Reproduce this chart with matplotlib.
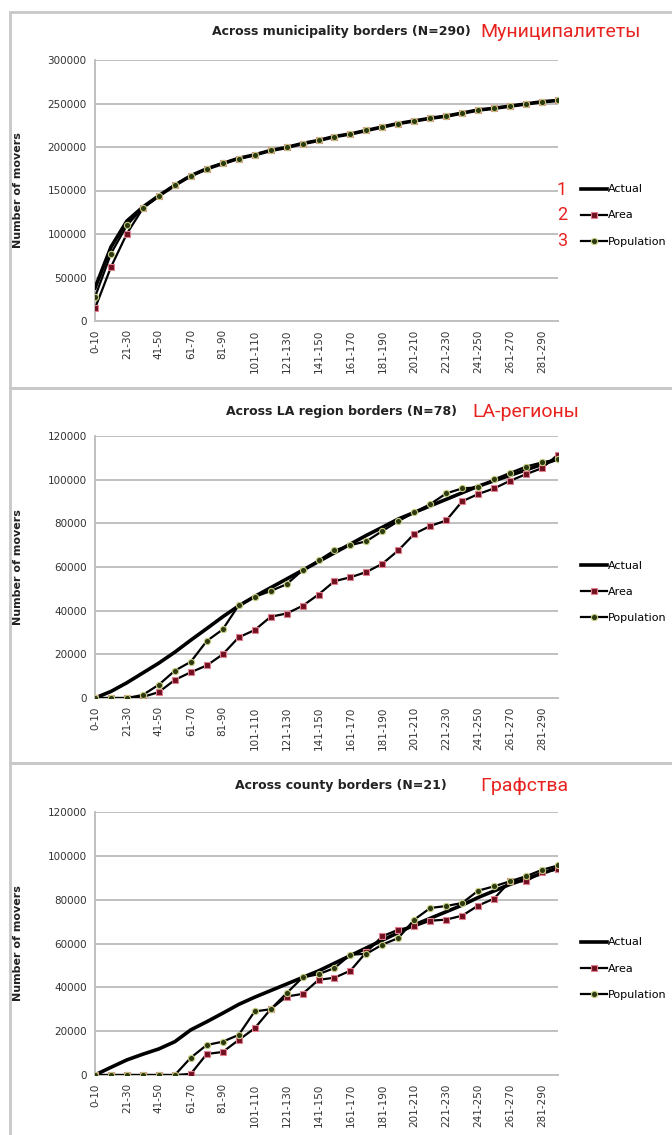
import matplotlib
matplotlib.use("Agg")
import matplotlib.pyplot as plt
from matplotlib.patches import Rectangle

# categories: distance bands 0-10 ... 291-300
cats = ["0-10"] + [f"{a}-{a + 9}" for a in range(11, 300, 10)]

# panel 1: municipality borders
mun_actual = [38000, 85000, 115000, 131000, 144000, 156000, 167000, 175000, 181000, 187000,
              191000, 196000, 199500, 204000, 207500, 212000, 215000, 219000, 223000, 227000,
              230000, 233000, 235500, 239000, 242500, 244500, 247000, 249500, 252000, 253500]
mun_area = [14500, 62000, 100500, 129500, 143500, 156500, 167000, 174500, 181500, 186500,
            191000, 196000, 199500, 204000, 207500, 212000, 215000, 219000, 223000, 227000,
            230000, 233000, 235500, 239000, 242500, 244500, 247000, 249500, 252000, 253500]
mun_pop = [27500, 77500, 110000, 130000, 143500, 156500, 167000, 174500, 181500, 186500,
           191000, 196000, 199500, 204000, 207500, 212000, 215000, 219000, 223000, 227000,
           230000, 233000, 235500, 239000, 242500, 244500, 247000, 249500, 252000, 253500]

# panel 2: LA region borders
la_actual = [0, 3000, 7000, 11500, 16000, 21000, 26500, 31800, 37200, 42200,
             46500, 50500, 54500, 58500, 62500, 66500, 70500, 74500, 78200, 82000,
             85000, 88000, 91000, 94000, 97000, 99500, 102000, 104500, 107000, 109500]
la_area = [0, 0, 0, 500, 2700, 8300, 11800, 14900, 20000, 27800,
           31100, 37200, 38700, 42200, 47400, 53500, 55300, 57700, 61500, 67600,
           75200, 78800, 81300, 90100, 93400, 96000, 99500, 102500, 105300, 111500]
la_pop = [0, 0, 0, 1400, 6100, 12500, 16600, 26100, 31400, 42500,
          46300, 49000, 52100, 58500, 63000, 67600, 70000, 71800, 76500, 81000,
          85000, 88800, 93700, 96000, 96500, 100100, 103100, 106000, 107900, 109400]

# panel 3: county borders
cty_actual = [0, 3500, 6900, 9500, 11900, 15200, 20600, 24300, 28200, 32200,
              35500, 38500, 41500, 44500, 47500, 51000, 54500, 58000, 61500, 65000,
              68500, 71500, 74500, 77500, 81000, 84000, 87000, 89500, 92000, 94500]
cty_area = [0, 0, 0, 0, 0, 0, 500, 9600, 10500, 16000,
            21300, 30000, 35800, 37000, 43400, 44400, 47600, 56100, 63300, 66300,
            67800, 70400, 70900, 72700, 77300, 80500, 88400, 88400, 92500, 93800]
cty_pop = [0, 0, 0, 0, 0, 0, 7900, 13700, 15200, 18300,
           29000, 30000, 37300, 44500, 46000, 48800, 54900, 55300, 59500, 62500,
           70900, 76200, 77100, 78500, 84100, 86100, 88400, 90700, 93600, 95600]

panels = [
    ("Across municipality borders (N=290)", "Муниципалитеты", mun_actual, mun_area, mun_pop, 300000, 50000),
    ("Across LA region borders (N=78)", "LA-регионы", la_actual, la_area, la_pop, 120000, 20000),
    ("Across county borders (N=21)", "Графства", cty_actual, cty_area, cty_pop, 120000, 20000),
]

W, H = 672, 1135
fig = plt.figure(figsize=(W / 100, H / 100), dpi=100)
fig.patch.set_facecolor("white")

red_font = ["Roboto", "DejaVu Sans"]

# (axes top px, axes bottom px, panel top px, panel bottom px, title y px, red title x px)
geo = [(60, 321, 12, 388, 32, 480), (436, 698, 388, 763, 412, 472), (812, 1075, 763, 1140, 786, 480)]
x = list(range(len(cats)))

for (title, ru, act, area, pop, ymax, ystep), (ta, ba, tp, bp, ty, rx) in zip(panels, geo):
    # panel frame
    fig.add_artist(Rectangle((10 / W, 1 - bp / H), (W + 20 - 10) / W, (bp - tp) / H,
                             transform=fig.transFigure, fill=False, edgecolor="#c8c8c8", lw=2))
    ax = fig.add_axes([95 / W, 1 - ba / H, (558 - 95) / W, (ba - ta) / H])
    ax.plot(x, act, color="black", lw=2.6, label="Actual", zorder=3)
    ax.plot(x, area, color="black", lw=1.6, marker="s", ms=4.5, mfc="#6e1020",
            mec="#e08090", mew=0.8, label="Area", zorder=4)
    ax.plot(x, pop, color="black", lw=1.6, marker="o", ms=4.5, mfc="#2c3a12",
            mec="#c8cc80", mew=0.8, label="Population", zorder=5)
    ax.set_xlim(0, len(cats) - 1)
    ax.set_ylim(0, ymax)
    ax.set_yticks(range(0, ymax + 1, ystep))
    ax.set_yticklabels([str(v) for v in range(0, ymax + 1, ystep)], fontsize=7.5, color="#333333")
    ax.set_xticks(x[::2])
    ax.set_xticklabels(cats[::2], rotation=90, fontsize=7.5, color="#333333")
    ax.tick_params(length=0, pad=6)
    ax.grid(axis="y", color="#c0c0c0", lw=1.4)
    ax.set_axisbelow(True)
    for s in ["top", "right"]:
        ax.spines[s].set_visible(False)
    for s in ["left", "bottom"]:
        ax.spines[s].set_color("#c0c0c0")
        ax.spines[s].set_linewidth(1.4)
    ax.set_ylabel("Number of movers", fontsize=8, fontweight="bold", color="#222222", labelpad=6)
    ax.yaxis.set_label_coords(-0.155, 0.5)
    ax.legend(loc="center left", bbox_to_anchor=(575 / W, 1 - ((ta + ba) / 2 + 25) / H),
              bbox_transform=fig.transFigure, frameon=False, fontsize=8,
              handlelength=2.4, handletextpad=0.1, labelspacing=1.45, borderpad=0)
    fig.text(341 / W, 1 - ty / H, title, ha="center", va="center", fontsize=9,
             fontweight="bold", color="#222222")
    fig.text(rx / W, 1 - ty / H, ru, ha="left", va="center", fontsize=14,
             color="#e8231f", family=red_font)

# numbering next to the first legend
for i, yy in enumerate([190, 215, 241]):
    fig.text(562 / W, 1 - yy / H, str(i + 1), ha="center", va="center",
             fontsize=13, color="#e8231f", family=red_font)

fig.savefig("out.png", dpi=100, facecolor="white")
